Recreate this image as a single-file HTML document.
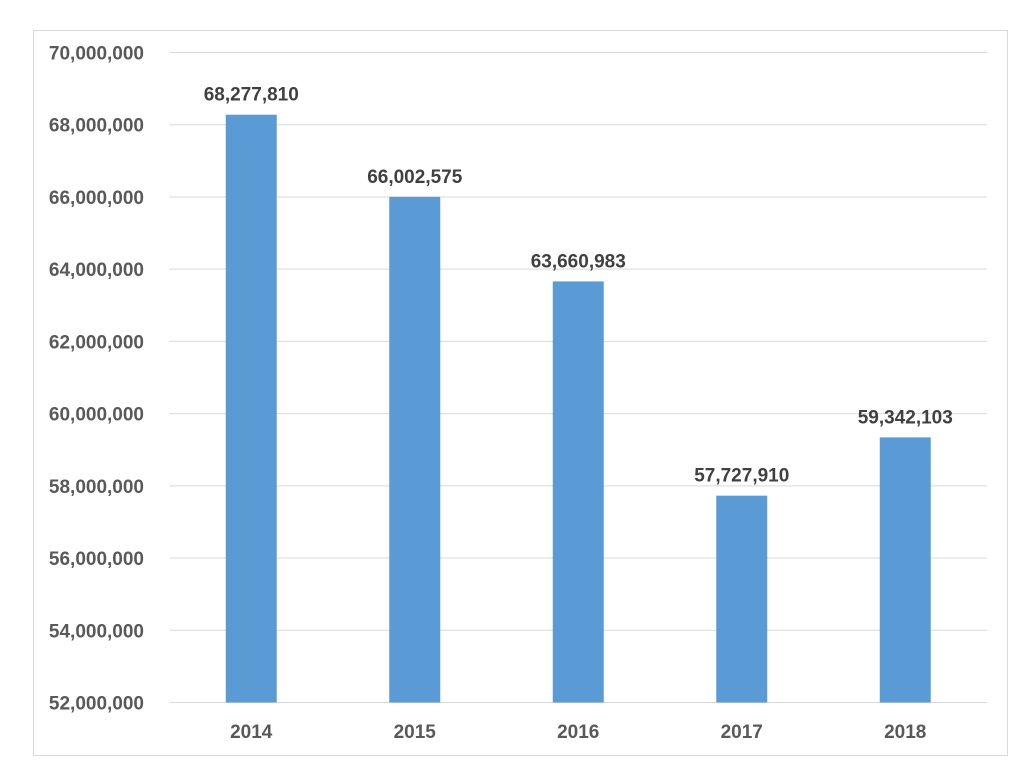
<!DOCTYPE html>
<html><head><meta charset="utf-8"><style>
body{margin:0;background:#fff;font-family:"Liberation Sans",sans-serif}
svg text{font-family:"Liberation Sans",sans-serif;font-weight:bold}
</style></head><body>
<svg width="1024" height="778">
<rect x="33.5" y="30.5" width="974" height="725" fill="#fff" stroke="#d9d9d9"/>
<g id="grid"></g><g id="bars"></g><g id="labels"></g>
</svg>
<script>
const categories=["2014","2015","2016","2017","2018"];
const values=[68277810,66002575,63660983,57727910,59342103];
const valueLabels=["68,277,810","66,002,575","63,660,983","57,727,910","59,342,103"];
const ticks=[52000000,54000000,56000000,58000000,60000000,62000000,64000000,66000000,68000000,70000000];
const tickLabels=["52,000,000","54,000,000","56,000,000","58,000,000","60,000,000","62,000,000","64,000,000","66,000,000","68,000,000","70,000,000"];
const NS="http://www.w3.org/2000/svg";
const x0=169.5,x1=987,yTop=52.5,yBot=702.5,vMin=52000000,vMax=70000000;
const y=v=>yBot-(v-vMin)/(vMax-vMin)*(yBot-yTop);
const band=(x1-x0)/categories.length;
const xc=i=>x0+band*(i+0.5);
function mk(t,a,p){const e=document.createElementNS(NS,t);for(const k in a)e.setAttribute(k,a[k]);p.appendChild(e);return e;}
const g=document.getElementById('grid'),b=document.getElementById('bars'),l=document.getElementById('labels');
ticks.forEach((t,i)=>{
 const ln=mk('line',{x1:x0,x2:x1,y1:y(t),y2:y(t),stroke:'#d9d9d9','stroke-width':1},g);
 
 
 const tx=mk('text',{x:144,y:y(t)+7,'text-anchor':'end','font-size':19,fill:'#595959'},g);
 tx.textContent=tickLabels[i];
 
 
});
categories.forEach((c,i)=>{
 const w=51;
 const r=mk('rect',{x:xc(i)-w/2,y:y(values[i]),width:w,height:yBot-y(values[i]),fill:'#5b9bd5'},b);
 
 
 const v=mk('text',{x:xc(i),y:y(values[i])-14,'text-anchor':'middle','font-size':19,fill:'#404040'},l);
 v.textContent=valueLabels[i];
 
 
 const cx=mk('text',{x:xc(i),y:738,'text-anchor':'middle','font-size':19,fill:'#595959'},l);
 cx.textContent=c;
 
 
});
</script>
</body></html>
